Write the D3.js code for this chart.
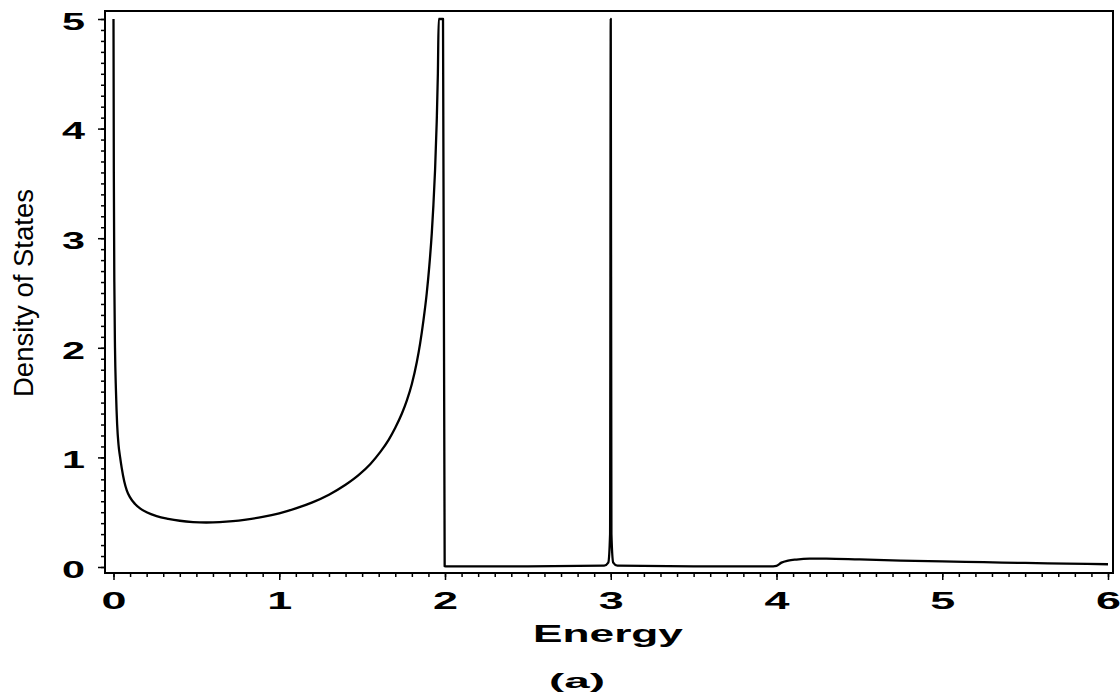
<!DOCTYPE html>
<html>
<head>
<meta charset="utf-8">
<script src="https://cdn.jsdelivr.net/npm/d3@7"></script>
<style>
  body { margin: 0; background: #fff; }
  svg { display: block; }
</style>
</head>
<body>
<div id="chart"></div>
<script>
// values (curve is clipped at 5 like the original)
var energy = [0, 0.002, 0.005, 0.009, 0.015, 0.022, 0.03, 0.04, 0.05, 0.065, 0.08, 0.1, 0.13, 0.16, 0.2, 0.26,
  0.33, 0.4, 0.48, 0.56, 0.64, 0.72, 0.8, 0.9, 1.0, 1.1, 1.2, 1.3, 1.4, 1.48, 1.55, 1.61, 1.66, 1.7, 1.74,
  1.77, 1.8, 1.83, 1.85, 1.87, 1.89, 1.905, 1.92, 1.93, 1.94, 1.95, 1.957, 1.962, 1.975, 1.988, 1.998, 2.01, 2.5,
  2.96, 2.985, 2.996, 3.0, 3.004, 3.015, 3.04, 3.5, 3.98, 4.0, 4.03, 4.07, 4.12, 4.2, 4.3, 4.5, 4.75, 5.0,
  5.25, 5.5, 5.75, 6.0];
var dos = [5.0, 3.6, 2.6, 2.0, 1.6, 1.3, 1.12, 1.0, 0.9, 0.78, 0.7, 0.635, 0.575, 0.535, 0.5, 0.465,
  0.44, 0.422, 0.41, 0.406, 0.409, 0.418, 0.433, 0.457, 0.49, 0.535, 0.59, 0.66, 0.75, 0.84, 0.94, 1.05, 1.16, 1.27, 1.4,
  1.52, 1.67, 1.87, 2.04, 2.25, 2.5, 2.74, 3.04, 3.3, 3.62, 4.06, 4.5, 5.0, 5.0, 5.0, 0.008, 0.006, 0.006,
  0.012, 0.04, 0.3, 5.0, 0.3, 0.04, 0.012, 0.006, 0.006, 0.01, 0.04, 0.058, 0.068, 0.076, 0.077, 0.069, 0.059, 0.051,
  0.044, 0.037, 0.031, 0.025];

var xTicks = [0, 1, 2, 3, 4, 5, 6];
var yTicks = [0, 1, 2, 3, 4, 5];
var xTitle = "Energy";
var yTitle = "Density of States";
var caption = "(a)";

var width = 1120;
var height = 696;
var frame = { left: 105, top: 11, right: 1113, bottom: 573 };

var svg = d3.select("#chart")
  .append("svg")
  .attr("width", width)
  .attr("height", height);

var xScale = d3.scaleLinear().domain([0, 6]).range([113.5, 1108]);
var yScale = d3.scaleLinear().domain([0, 5]).range([567, 19]);

// minor ticks every 0.1
var xMinor = d3.range(0, 61).map(function(d) { return d / 10; });
var yMinor = d3.range(0, 51).map(function(d) { return d / 10; });

svg.append("g")
  .attr("transform", "translate(0," + frame.bottom + ")")
  .call(d3.axisBottom(xScale).tickValues(xMinor).tickSize(4).tickFormat(""))
  .call(function(g) { g.select(".domain").remove(); });

svg.append("g")
  .attr("transform", "translate(" + frame.left + ",0)")
  .call(d3.axisLeft(yScale).tickValues(yMinor).tickSize(4).tickFormat(""))
  .call(function(g) { g.select(".domain").remove(); });

// major ticks + labels
var xAxis = svg.append("g")
  .attr("class", "xAxis")
  .attr("transform", "translate(0," + frame.bottom + ")")
  .call(d3.axisBottom(xScale).tickValues(xTicks).tickSize(7).tickPadding(13).tickFormat(d3.format("d")));
xAxis.select(".domain").remove();

var yAxis = svg.append("g")
  .attr("class", "yAxis")
  .attr("transform", "translate(" + frame.left + ",0)")
  .call(d3.axisLeft(yScale).tickValues(yTicks).tickSize(7).tickPadding(13).tickFormat(d3.format("d")));
yAxis.select(".domain").remove();

svg.selectAll(".tick line").attr("stroke", "#000").attr("stroke-width", 1.5);

xAxis.selectAll("text")
  .attr("font-family", "Liberation Sans, Arial, sans-serif")
  .attr("font-weight", "bold")
  .attr("font-size", 23)
  .attr("fill", "#000")
  .attr("dy", "0.71em")
  .attr("textLength", 25)
  .attr("lengthAdjust", "spacingAndGlyphs");

yAxis.selectAll("text")
  .attr("font-family", "Liberation Sans, Arial, sans-serif")
  .attr("font-weight", "bold")
  .attr("font-size", 23)
  .attr("fill", "#000")
  .attr("dy", "0.45em")
  .attr("textLength", 23)
  .attr("lengthAdjust", "spacingAndGlyphs");

// frame
svg.append("rect")
  .attr("x", frame.left)
  .attr("y", frame.top)
  .attr("width", frame.right - frame.left)
  .attr("height", frame.bottom - frame.top)
  .attr("fill", "none")
  .attr("stroke", "#000")
  .attr("stroke-width", 2);

// curve
var pts = energy.map(function(e, i) { return [e, dos[i]]; });
var line = d3.line()
  .x(function(d) { return xScale(d[0]); })
  .y(function(d) { return yScale(d[1]); })
  .curve(d3.curveMonotoneX);

svg.append("path")
  .datum(pts)
  .attr("d", line)
  .attr("fill", "none")
  .attr("stroke", "#000")
  .attr("stroke-width", 2.3)
  .attr("stroke-linejoin", "round");

// axis titles
svg.append("text")
  .attr("x", 608)
  .attr("y", 642)
  .attr("text-anchor", "middle")
  .attr("font-family", "Liberation Sans, Arial, sans-serif")
  .attr("font-weight", "bold")
  .attr("font-size", 23)
  .attr("textLength", 150)
  .attr("lengthAdjust", "spacingAndGlyphs")
  .text(xTitle);

svg.append("text")
  .attr("transform", "translate(33,293)rotate(-90)")
  .attr("text-anchor", "middle")
  .attr("font-family", "Liberation Sans, Arial, sans-serif")
  .attr("font-size", 27)
  .attr("textLength", 208)
  .attr("lengthAdjust", "spacingAndGlyphs")
  .text(yTitle);

svg.append("text")
  .attr("x", 577)
  .attr("y", 688)
  .attr("text-anchor", "middle")
  .attr("font-family", "Liberation Sans, Arial, sans-serif")
  .attr("font-weight", "bold")
  .attr("font-size", 20)
  .attr("textLength", 56)
  .attr("lengthAdjust", "spacingAndGlyphs")
  .text(caption);
</script>
</body>
</html>
